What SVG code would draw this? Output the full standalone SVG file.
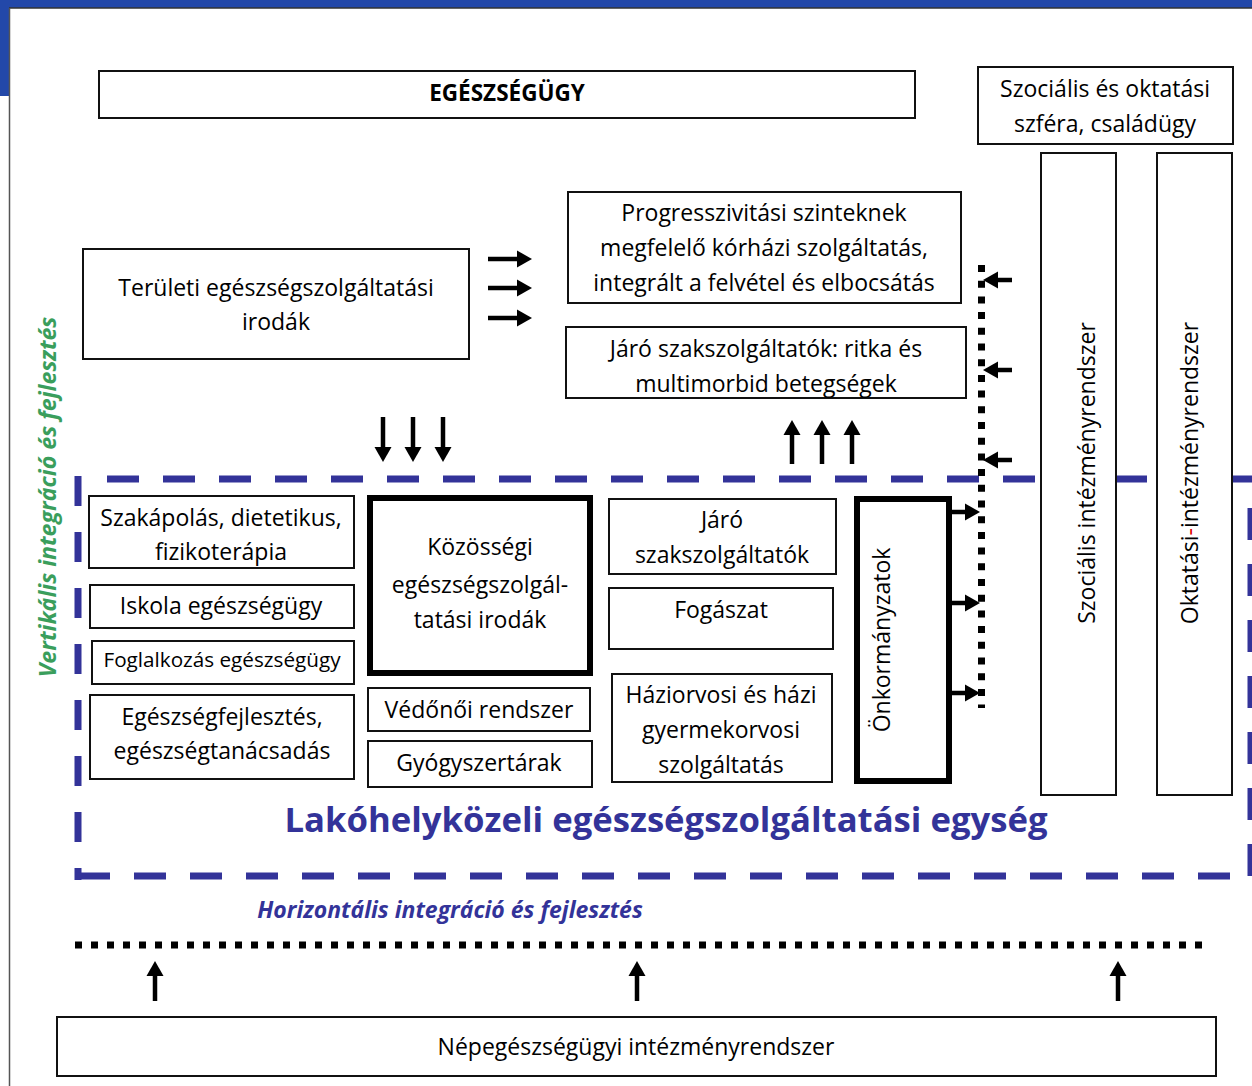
<svg xmlns="http://www.w3.org/2000/svg" width="1252" height="1086" viewBox="0 0 1252 1086">
<style>
.bx{fill:#fff;stroke:#111;stroke-width:2}
.bxk{fill:#fff;stroke:#000;stroke-width:6}
.t{font-family:"Open Sans","Liberation Sans",sans-serif;font-size:23px;fill:#000;text-anchor:middle}
.ar{stroke:#000;stroke-width:4.5;fill:none;marker-end:url(#ah)}
.dot{stroke:#000;stroke-width:7;fill:none}
.bd{stroke:#333399;stroke-width:7;fill:none}
</style>
<defs>
<marker id="ah" markerUnits="userSpaceOnUse" markerWidth="20" markerHeight="20" refX="0" refY="0" orient="auto" overflow="visible">
<path d="M0,-8.5 L15,0 L0,8.5 z" fill="#000"/>
</marker>
</defs>
<rect x="0" y="0" width="1252" height="1086" fill="#fff"/>
<g id="frame">
<rect x="0" y="0" width="1252" height="8" fill="#2348a9"/>
<rect x="0" y="0" width="9" height="96" fill="#2348a9"/>
<line x1="9" y1="8" x2="1252" y2="8" stroke="#333" stroke-width="1.5"/>
<line x1="9.5" y1="8" x2="9.5" y2="1086" stroke="#555" stroke-width="1.5"/>
</g>
<g id="unit-border">
<line class="bd" x1="107" y1="479" x2="1256" y2="479" stroke-dasharray="32 24"/>
<line class="bd" x1="78" y1="476" x2="78" y2="880" stroke-dasharray="30 26"/>
<line class="bd" x1="78" y1="876" x2="1248" y2="876" stroke-dasharray="32 24"/>
<line class="bd" x1="1251" y1="508" x2="1251" y2="877" stroke-dasharray="32 24"/>
</g>
<g id="connectors">
<line class="dot" x1="981.5" y1="265" x2="981.5" y2="708" stroke-dasharray="7 8.7"/>
<line class="dot" x1="75" y1="945" x2="1202" y2="945" stroke-dasharray="7 9"/>
<line class="ar" x1="488" y1="259" x2="517" y2="259"/>
<line class="ar" x1="488" y1="288" x2="517" y2="288"/>
<line class="ar" x1="488" y1="318" x2="517" y2="318"/>
<line class="ar" x1="383" y1="417" x2="383" y2="447"/>
<line class="ar" x1="413" y1="417" x2="413" y2="447"/>
<line class="ar" x1="443" y1="417" x2="443" y2="447"/>
<line class="ar" x1="792" y1="464" x2="792" y2="435"/>
<line class="ar" x1="822" y1="464" x2="822" y2="435"/>
<line class="ar" x1="852" y1="464" x2="852" y2="435"/>
<line class="ar" x1="1012" y1="280" x2="998" y2="280"/>
<line class="ar" x1="1012" y1="370" x2="998" y2="370"/>
<line class="ar" x1="1012" y1="460" x2="998" y2="460"/>
<line class="ar" x1="952" y1="512" x2="965" y2="512"/>
<line class="ar" x1="952" y1="603" x2="965" y2="603"/>
<line class="ar" x1="952" y1="693" x2="965" y2="693"/>
<line class="ar" x1="155" y1="1001" x2="155" y2="976"/>
<line class="ar" x1="637" y1="1001" x2="637" y2="976"/>
<line class="ar" x1="1118" y1="1001" x2="1118" y2="976"/>
</g>
<g id="egeszsegugy">
<rect class="bx" x="99" y="71" width="816" height="47"/>
<text class="t" x="507" y="101" style="font-weight:bold;font-size:22.5px">EGÉSZSÉGÜGY</text>
</g>
<g id="szocialis-szfera">
<rect class="bx" x="978" y="67" width="255" height="77"/>
<text class="t" x="1105" y="97">Szociális és oktatási</text>
<text class="t" x="1105" y="132">szféra, családügy</text>
</g>
<g id="szocialis-intezmeny">
<rect class="bx" x="1041" y="153" width="75" height="642"/>
<text class="t" transform="translate(1095,473) rotate(-90)">Szociális intézményrendszer</text>
</g>
<g id="oktatasi-intezmeny">
<rect class="bx" x="1157" y="153" width="75" height="642"/>
<text class="t" transform="translate(1198,473) rotate(-90)">Oktatási<tspan fill="#e00000">-</tspan>intézményrendszer</text>
</g>
<g id="teruleti">
<rect class="bx" x="83" y="249" width="386" height="110"/>
<text class="t" x="276" y="296">Területi egészségszolgáltatási</text>
<text class="t" x="276" y="330">irodák</text>
</g>
<g id="progresszivitasi">
<rect class="bx" x="568" y="192" width="393" height="111"/>
<text class="t" x="764" y="221">Progresszivitási szinteknek</text>
<text class="t" x="764" y="256">megfelelő kórházi szolgáltatás,</text>
<text class="t" x="764" y="291">integrált a felvétel és elbocsátás</text>
</g>
<g id="jaro-ritka">
<rect class="bx" x="566" y="327" width="400" height="71"/>
<text class="t" x="766" y="357">Járó szakszolgáltatók: ritka és</text>
<text class="t" x="766" y="392">multimorbid betegségek</text>
</g>
<g id="szakapolas">
<rect class="bx" x="89" y="496" width="265" height="72"/>
<text class="t" x="221" y="526">Szakápolás, dietetikus,</text>
<text class="t" x="221" y="560">fizikoterápia</text>
</g>
<g id="iskola">
<rect class="bx" x="90" y="585" width="264" height="43"/>
<text class="t" x="221" y="614">Iskola egészségügy</text>
</g>
<g id="foglalkozas">
<rect class="bx" x="92" y="641" width="262" height="43"/>
<text class="t" x="222" y="667" style="font-size:20.7px">Foglalkozás egészségügy</text>
</g>
<g id="egeszsegfejlesztes">
<rect class="bx" x="90" y="695" width="264" height="84"/>
<text class="t" x="222" y="725">Egészségfejlesztés,</text>
<text class="t" x="222" y="759">egészségtanácsadás</text>
</g>
<g id="kozossegi">
<rect class="bxk" x="370" y="498" width="220" height="175"/>
<text class="t" x="480" y="555">Közösségi</text>
<text class="t" x="480" y="593">egészségszolgál-</text>
<text class="t" x="480" y="628">tatási irodák</text>
</g>
<g id="vedonoi">
<rect class="bx" x="368" y="688" width="222" height="43"/>
<text class="t" x="479" y="718">Védőnői rendszer</text>
</g>
<g id="gyogyszertarak">
<rect class="bx" x="368" y="741" width="224" height="46"/>
<text class="t" x="479" y="771">Gyógyszertárak</text>
</g>
<g id="jaro">
<rect class="bx" x="609" y="499" width="227" height="75"/>
<text class="t" x="722" y="528">Járó</text>
<text class="t" x="722" y="563">szakszolgáltatók</text>
</g>
<g id="fogaszat">
<rect class="bx" x="609" y="588" width="224" height="61"/>
<text class="t" x="721" y="618">Fogászat</text>
</g>
<g id="haziorvosi">
<rect class="bx" x="612" y="674" width="220" height="108"/>
<text class="t" x="721" y="703">Háziorvosi és házi</text>
<text class="t" x="721" y="738">gyermekorvosi</text>
<text class="t" x="721" y="773">szolgáltatás</text>
</g>
<g id="onkormanyzatok">
<rect class="bxk" x="857" y="499" width="92" height="282"/>
<text class="t" transform="translate(890,640) rotate(-90)">Önkormányzatok</text>
</g>
<g id="nepegeszsegugyi">
<rect class="bx" x="57" y="1017" width="1159" height="59"/>
<text class="t" x="636" y="1055">Népegészségügyi intézményrendszer</text>
</g>
<g id="labels">
<text class="t" x="666" y="832" style="fill:#333399;font-weight:bold;font-size:34.7px">Lakóhelyközeli egészségszolgáltatási egység</text>
<text class="t" x="450" y="918" style="fill:#333399;font-weight:bold;font-style:italic;font-size:23px">Horizontális integráció és fejlesztés</text>
<text class="t" transform="translate(56,497) rotate(-90)" style="fill:#3a9e5c;font-weight:bold;font-style:italic;font-size:23.2px">Vertikális integráció és fejlesztés</text>
</g>
</svg>
